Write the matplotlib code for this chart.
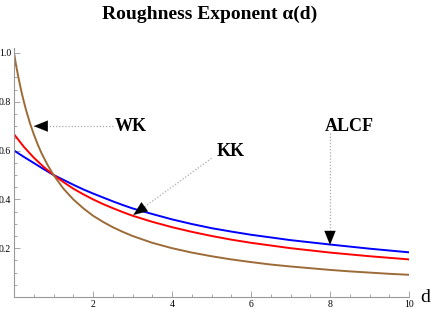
import matplotlib
matplotlib.use("Agg")
from matplotlib import pyplot as plt
from matplotlib.ticker import MultipleLocator

# values
d_wk = [0, 0.05, 0.1, 0.15, 0.2, 0.25, 0.3, 0.4, 0.5, 0.6, 0.7, 0.85, 1, 1.25, 1.5, 1.75,
        2, 2.25, 2.5, 2.75, 3, 3.5, 4, 4.5, 5, 5.5, 6, 6.5, 7, 7.5, 8, 8.5, 9, 9.5, 10]
a_wk = [1.0, 0.952, 0.909, 0.870, 0.833, 0.800, 0.769, 0.714, 0.667, 0.625, 0.588, 0.541,
        0.5, 0.444, 0.4, 0.364, 0.333, 0.308, 0.286, 0.267, 0.25, 0.222, 0.2, 0.182,
        0.167, 0.154, 0.143, 0.133, 0.125, 0.118, 0.111, 0.105, 0.1, 0.095, 0.091]

d_kk = [0, 0.25, 0.5, 0.75, 1, 1.25, 1.5, 1.75, 2, 2.25, 2.5, 2.75, 3, 3.5, 4, 4.5,
        5, 5.5, 6, 6.5, 7, 8, 9, 10]
a_kk = [0.667, 0.615, 0.571, 0.533, 0.5, 0.471, 0.444, 0.421, 0.4, 0.381, 0.364, 0.348,
        0.333, 0.308, 0.286, 0.267, 0.25, 0.235, 0.222, 0.211, 0.2, 0.182, 0.167, 0.154]

d_alcf = [0, 0.25, 0.5, 0.75, 1, 1.25, 1.5, 1.75, 2, 2.25, 2.5, 2.75, 3, 3.5, 4, 4.5,
          5, 5.5, 6, 7, 8, 9, 10]
a_alcf = [0.6, 0.574, 0.549, 0.524, 0.5, 0.48, 0.46, 0.441, 0.424, 0.408, 0.392, 0.377,
          0.363, 0.34, 0.318, 0.299, 0.282, 0.268, 0.255, 0.233, 0.215, 0.198, 0.183]

# label text, label position, arrow tail, arrow tip
labels = ["WK", "KK", "ALCF"]
label_pos = [(2.56, 0.70), (5.14, 0.596), (7.86, 0.70)]
arrow_tail = [(2.5, 0.70), (5.0, 0.568), (8.0, 0.672)]
arrow_tip = [(0.5, 0.70), (3.02, 0.336), (8.0, 0.213)]

serif = "Liberation Serif"

fig = plt.figure(figsize=(4.32, 3.10), dpi=100)
ax = fig.add_axes([14 / 432, 13 / 310, 395 / 432, 249 / 310])

ax.plot(d_alcf, a_alcf, color="#0000ff", lw=1.4)
ax.plot(d_kk, a_kk, color="#ff0000", lw=1.4)
ax.plot(d_wk, a_wk, color="#9c6b38", lw=1.4)

ax.set_xlim(0, 10)
ax.set_ylim(0, 1.02)

for s in ["top", "right"]:
    ax.spines[s].set_visible(False)
for s in ["left", "bottom"]:
    ax.spines[s].set_color("#999999")
    ax.spines[s].set_linewidth(0.8)

ax.xaxis.set_major_locator(MultipleLocator(2))
ax.xaxis.set_minor_locator(MultipleLocator(0.5))
ax.yaxis.set_major_locator(MultipleLocator(0.2))
ax.yaxis.set_minor_locator(MultipleLocator(0.05))
ax.tick_params(which="both", direction="in", color="#999999", width=0.6,
               labelsize=7, pad=2)
ax.tick_params(which="major", length=4)
ax.tick_params(which="minor", length=2)
ax.set_xticks([2, 4, 6, 8, 10])
ax.set_xticklabels(["2", "4", "6", "8", "10"], fontfamily=serif)
ax.set_yticks([0.2, 0.4, 0.6, 0.8, 1.0])
ax.set_yticklabels(["0.2", "0.4", "0.6", "0.8", "1.0"], fontfamily=serif)

for lab, pos, tail, tip in zip(labels, label_pos, arrow_tail, arrow_tip):
    ax.text(pos[0], pos[1], lab, fontfamily=serif, fontweight="bold",
            fontsize=13, ha="left", va="center")
    # dotted gray shaft
    ax.plot([tail[0], tip[0]], [tail[1], tip[1]], color="#aaaaaa", lw=0.9,
            ls=(0, (1, 1.5)))
    # black head
    fx = tip[0] + (tail[0] - tip[0]) * 0.12
    fy = tip[1] + (tail[1] - tip[1]) * 0.12
    ax.annotate("", xy=tip, xytext=(fx, fy),
                arrowprops=dict(arrowstyle="-|>,head_length=1.0,head_width=0.4",
                                color="black", lw=0.1, shrinkA=0, shrinkB=0))

fig.text(425 / 432, 13 / 310, "d", fontfamily=serif, fontsize=14,
         ha="center", va="center")
fig.text(210 / 432, 0.955, "Roughness Exponent \u03b1(d)", fontfamily=serif,
         fontweight="bold", fontsize=14, ha="center", va="center")

fig.savefig("out.png", dpi=100)
